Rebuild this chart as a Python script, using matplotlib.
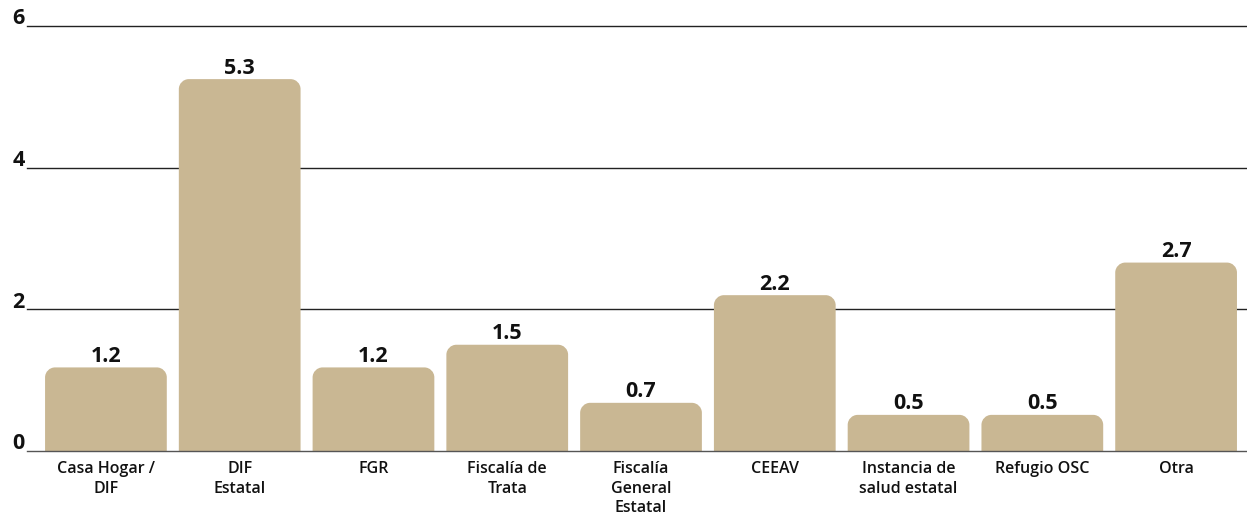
import matplotlib
matplotlib.use("Agg")
import matplotlib.pyplot as plt
from matplotlib.patches import PathPatch
from matplotlib.path import Path
import matplotlib.transforms as mtransforms

categories = ["Casa Hogar /\nDIF", "DIF\nEstatal", "FGR", "Fiscalía de\nTrata",
              "Fiscalía\nGeneral\nEstatal", "CEEAV", "Instancia de\nsalud estatal",
              "Refugio OSC", "Otra"]
values = [1.18, 5.25, 1.18, 1.50, 0.68, 2.20, 0.51, 0.51, 2.66]
value_labels = ["1.2", "5.3", "1.2", "1.5", "0.7", "2.2", "0.5", "0.5", "2.7"]
yticks = [0, 2, 4, 6]

W, H = 1247, 515
fig = plt.figure(figsize=(W / 100, H / 100), dpi=100)
ax_left, ax_right = 27 / W, 1.0
ax_bottom, ax_top = (H - 451) / H, (H - 26) / H
ax = fig.add_axes([ax_left, ax_bottom, ax_right - ax_left, ax_top - ax_bottom])

bar_color = "#C9B793"
fam = ["Open Sans", "DejaVu Sans"]
txt_color = "#111111"

n = len(categories)
xlo, xhi = -0.59, n - 1 + 0.53
ax.set_xlim(xlo, xhi)
ax.set_ylim(0, 6)

x = list(range(n))
bars = ax.bar(x, values, width=0.91, color="none", edgecolor="none", zorder=3)

xpx = (ax_right - ax_left) * W / (xhi - xlo)
ypx = (ax_top - ax_bottom) * H / 6
r_px = 10
rx, ry = r_px / xpx, r_px / ypx
k = 0.5523

def top_rounded(x0, w, h):
    x1 = x0 + w
    verts = [
        (x0, 0), (x0, h - ry),
        (x0, h - ry + k * ry), (x0 + rx - k * rx, h), (x0 + rx, h),
        (x1 - rx, h),
        (x1 - rx + k * rx, h), (x1, h - ry + k * ry), (x1, h - ry),
        (x1, 0), (x0, 0),
    ]
    codes = [Path.MOVETO, Path.LINETO,
             Path.CURVE4, Path.CURVE4, Path.CURVE4,
             Path.LINETO,
             Path.CURVE4, Path.CURVE4, Path.CURVE4,
             Path.LINETO, Path.CLOSEPOLY]
    return Path(verts, codes)

for b, lab in zip(bars, value_labels):
    bx, bw, bh = b.get_x(), b.get_width(), b.get_height()
    ax.add_patch(PathPatch(top_rounded(bx, bw, bh), facecolor=bar_color,
                           edgecolor="none", zorder=3))
    ax.annotate(lab, (bx + bw / 2, bh), xytext=(0, 5.5 * 0.72),
                textcoords="offset points", ha="center", va="baseline",
                fontsize=15.5, fontweight="bold", family=fam, color=txt_color)

blend = mtransforms.blended_transform_factory(ax.transAxes, ax.transData)
for t in yticks:
    ax.axhline(t, color="#555555" if t == 0 else "#222222", lw=1.0,
               zorder=1 if t else 4, clip_on=False)
    ax.annotate(str(t), (0, t), xycoords=blend, xytext=(-1.5, 1.2),
                textcoords="offset points", ha="right", va="baseline",
                fontsize=15.5, fontweight="bold", family=fam, color=txt_color)

for xi, c in zip(x, categories):
    ax.annotate(c, (xi, 0), xytext=(0, -7.5), textcoords="offset points",
                ha="center", va="top", fontsize=11.5, fontweight="semibold",
                family=fam, color=txt_color, linespacing=1.27)

for s in ax.spines.values():
    s.set_visible(False)
ax.set_xticks([])
ax.set_yticks([])
ax.patch.set_visible(False)

fig.savefig("out.png", dpi=100)
